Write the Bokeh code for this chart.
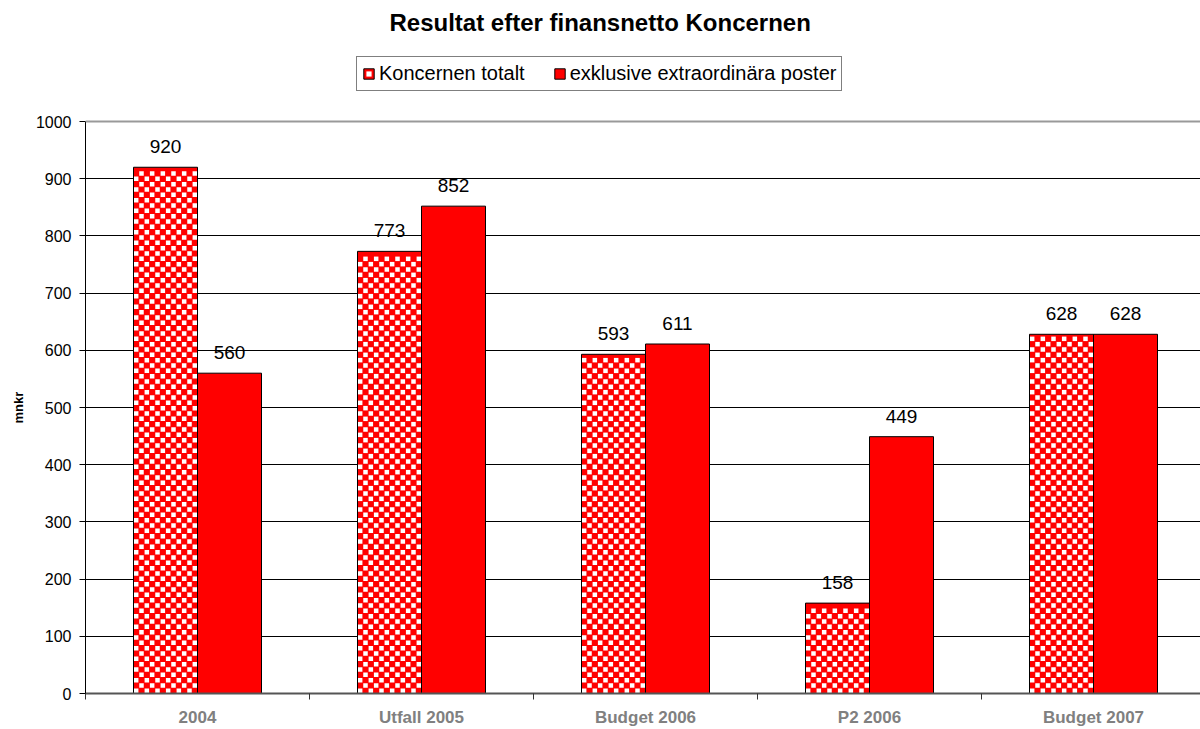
import numpy as np
from bokeh.plotting import figure
from bokeh.models import (Range1d, FixedTicker, ColumnDataSource, Legend, LegendItem, Span, Label,
                          Title)
from bokeh.core.properties import value
from bokeh.embed import file_html
from bokeh.resources import INLINE

categories = ["2004", "Utfall 2005", "Budget 2006", "P2 2006", "Budget 2007"]
totalt = [920, 773, 593, 158, 628]
exklusive = [560, 852, 611, 449, 628]
series_names = ["Koncernen totalt", "exklusive extraordinära poster"]
title_text = "Resultat efter finansnetto  Koncernen"
y_label = "mnkr"
y_ticks = [0, 100, 200, 300, 400, 500, 600, 700, 800, 900, 1000]

FONT = "Liberation Sans"
RED = "#FF0000"

# geometry (pixels) used for scales
PX_PER_CAT = 224.0
PLOT_H = 572.0          # pixels for 0..1000
FRAME_H = 693.0         # frame extends up to cover title/legend area
Y_MAX = 1000.0
px_per_val = PLOT_H / Y_MAX

idx = np.arange(len(categories))
centers = idx + 0.5
bw = 64 / PX_PER_CAT
src1 = ColumnDataSource(dict(x=centers - bw / 2, top=totalt, lab=[str(v) for v in totalt]))
src2 = ColumnDataSource(dict(x=centers + bw / 2, top=exklusive, lab=[str(v) for v in exklusive]))

# checker texture for the "Koncernen totalt" bars (hatch is not drawn by the svg backend)
cell = 64 / 12.0
tx, ty = [], []
for c, v in zip(centers - bw / 2, totalt):
    left = c - bw / 2
    nrows = int((v * px_per_val) // cell)
    for j in range(nrows):
        for i in range(12):
            if (i + j) % 2 == 0:
                tx.append(left + (i + 0.5) * cell / PX_PER_CAT)
                ty.append((j + 0.5) * cell / px_per_val)
tex_src = ColumnDataSource(dict(x=tx, y=ty))

p = figure(width=1200, height=729, output_backend="svg", toolbar_location=None,
           title_location=None,
           x_range=Range1d(0, 1115 / PX_PER_CAT), y_range=Range1d(0, Y_MAX * FRAME_H / PLOT_H),
           min_border_left=85, min_border_right=0, min_border_top=0, min_border_bottom=36)
p.background_fill_color = "white"
p.border_fill_color = "white"
p.outline_line_color = None

r1 = p.vbar(x="x", top="top", width=bw, source=src1, fill_color=RED, line_color=None)
rt = p.scatter(x="x", y="y", source=tex_src, marker="square", size=4.5, fill_color="white",
               line_color=None)
r1o = p.vbar(x="x", top="top", width=bw, source=src1, fill_color=None, line_color="black",
             line_width=1)
r2 = p.vbar(x="x", top="top", width=bw, source=src2, fill_color=RED, line_color="black",
            line_width=1)

for s in (src1, src2):
    p.text(x="x", y="top", text="lab", source=s, text_align="center", text_baseline="bottom",
           y_offset=-14, text_font=value(FONT), text_font_size="19px", text_color="black")

# grid
p.xgrid.grid_line_color = None
p.ygrid.ticker = FixedTicker(ticks=y_ticks[1:-1])
p.ygrid.grid_line_color = "black"
p.ygrid.grid_line_width = 1
p.add_layout(Span(location=y_ticks[-1], dimension="width", line_color="#999999", line_width=2))

# title
p.add_layout(Label(x=(603 - 85) / PX_PER_CAT, y=(FRAME_H - 22) / px_per_val, text=title_text,
                   text_align="center", text_baseline="middle", text_font=FONT,
                   text_font_size="24px", text_font_style="bold", text_color="black"))

# axes
xa = p.xaxis[0]
xa.ticker = FixedTicker(ticks=list(centers), minor_ticks=list(range(len(categories) + 1)))
xa.major_label_overrides = {float(c): cat for c, cat in zip(centers, categories)}
xa.major_tick_line_color = None
xa.major_tick_out = 0
xa.major_tick_in = 0
xa.minor_tick_line_color = "#333333"
xa.minor_tick_out = 6
xa.minor_tick_in = 0
xa.axis_line_color = "#555555"
xa.axis_line_width = 2
xa.major_label_text_font = FONT
xa.major_label_text_font_size = "17px"
xa.major_label_text_font_style = "bold"
xa.major_label_text_color = "#808080"
xa.major_label_standoff = 8

ya = p.yaxis[0]
ya.bounds = (0, 1000)
ya.ticker = FixedTicker(ticks=y_ticks)
ya.minor_tick_line_color = None
ya.major_tick_out = 6
ya.major_tick_in = 0
ya.axis_line_color = "black"
ya.major_tick_line_color = "black"
ya.major_label_text_font = FONT
ya.major_label_text_font_size = "16px"
ya.major_label_text_color = "black"
ya.major_label_standoff = 8

# y axis title, centred on the 0..1000 part of the frame (text starts 270px above frame bottom)
p.add_layout(Title(text=y_label, align="left", offset=270,
                   text_font=FONT, text_font_size="13px", text_font_style="bold",
                   text_color="black", standoff=14), "left")

legend = Legend(items=[LegendItem(label=series_names[0], renderers=[r1, rt, r1o]),
                       LegendItem(label=series_names[1], renderers=[r2])],
                orientation="horizontal", location=(271, 602),
                label_text_font=FONT, label_text_font_size="20px", label_text_color="black",
                glyph_width=13, glyph_height=13, label_standoff=4, spacing=28,
                padding=5, margin=0, border_line_color="black", border_line_width=1,
                background_fill_alpha=1.0)
p.add_layout(legend, "center")

open("out.html", "w").write(file_html(p, INLINE))
